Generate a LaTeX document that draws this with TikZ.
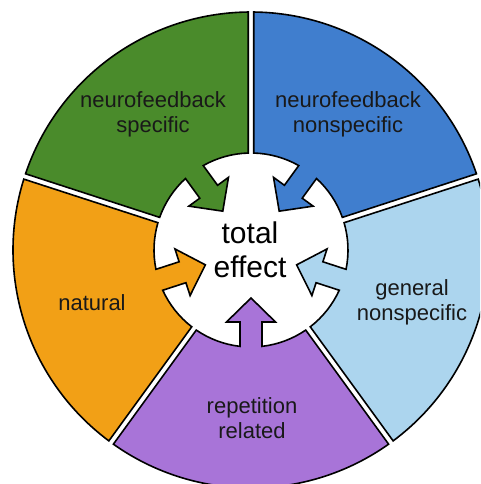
\documentclass[tikz,border=0pt]{standalone}
\usepackage{fontspec}
\setmainfont{Liberation Sans}
\usepackage{tikz}

\definecolor{nfgreen}{RGB}{74,139,43}
\definecolor{nfblue}{RGB}{64,126,206}
\definecolor{genblue}{RGB}{172,213,238}
\definecolor{natorange}{RGB}{242,160,22}
\definecolor{reppurple}{RGB}{168,116,216}

\def\ringout{238}
\def\ringin{97}
\def\ringgap{2.8}

\begin{document}
\begin{tikzpicture}[
    x=1pt, y=1pt,
    segment/.style={
        draw=black,
        line width=1.6pt,
        line join=miter
    },
    seglabel/.style={
        align=center,
        inner sep=0pt,
        text=black!90,
        font=\fontsize{22}{25}\selectfont
    },
    centerlabel/.style={
        align=center,
        inner sep=0pt,
        font=\fontsize{30}{34}\selectfont
    }
]

\useasboundingbox (-251,-234) rectangle (229,250);
\clip (-251,-234) rectangle (229,250);

\pgfmathsetmacro\epsout{asin(\ringgap/\ringout)}
\pgfmathsetmacro\epsin{asin(\ringgap/\ringin)}
\pgfmathsetmacro\epsshaft{asin(11/\ringin)}

% five ring segments, each with an arrow into the centre
\foreach \ang/\col in {126/nfgreen, 54/nfblue, -18/genblue, 270/reppurple, 198/natorange}{
  \begin{scope}[rotate=\ang]
    \draw[segment, fill=\col]
      ({-36+\epsin}:\ringin pt) -- ({-36+\epsout}:\ringout pt)
      arc[start angle={-36+\epsout}, end angle={36-\epsout}, radius=\ringout pt]
      -- ({36-\epsin}:\ringin pt)
      arc[start angle={36-\epsin}, end angle={\epsshaft}, radius=\ringin pt]
      -- (72,11) -- (72,24.5) -- (48,0) -- (72,-24.5) -- (72,-11)
      -- ({-\epsshaft}:\ringin pt)
      arc[start angle={-\epsshaft}, end angle={-36+\epsin}, radius=\ringin pt]
      -- cycle;
  \end{scope}
}

\node[seglabel] (nfspec) at (-98,135.5) {neurofeedback\\specific};
\node[seglabel] (nfnonspec) at (97,135.5) {neurofeedback\\nonspecific};
\node[seglabel] (gennonspec) at (161,-52.5) {general\\nonspecific};
\node[seglabel] (natural) at (-159,-53) {natural};
\node[seglabel] (reprel) at (1,-168.5) {repetition\\related};

\node[centerlabel] (total) at (-1,0) {total\\effect};

\end{tikzpicture}
\end{document}
